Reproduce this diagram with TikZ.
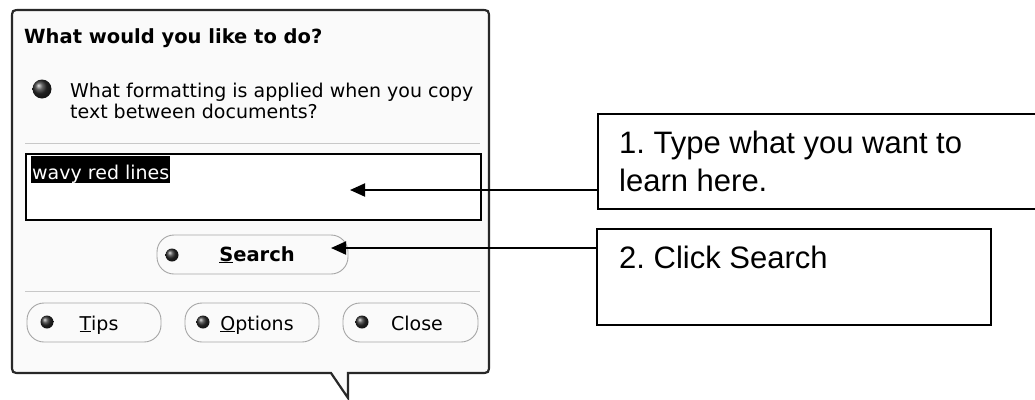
\documentclass[tikz,border=0pt]{standalone}
\usepackage{fontspec}
\setmainfont{Liberation Sans}
\newfontfamily\uifont{DejaVu Sans}
\usetikzlibrary{arrows.meta}
\frenchspacing

\definecolor{balloonbg}{RGB}{250,250,250}
\definecolor{balloonline}{RGB}{40,40,40}
\definecolor{rulegray}{RGB}{200,200,200}
\definecolor{pillline}{RGB}{165,165,165}

\tikzset{
  balloon/.style={draw=balloonline, line width=2.2pt, fill=balloonbg},
  field/.style={draw=black, line width=1.6pt, fill=white, anchor=north west,
    inner sep=0pt, minimum width=455pt, minimum height=66pt},
  pill/.style={draw=pillline, line width=0.9pt, rounded corners=17pt,
    minimum height=39pt, inner sep=0pt},
  knob/.style={circle, inner sep=0pt, minimum size=13pt, shading=ball,
    ball color=black!82},
  uitext/.style={font=\uifont\fontsize{19}{21}\selectfont, inner sep=0pt},
  uibold/.style={font=\uifont\bfseries\fontsize{19.5}{22}\selectfont, inner sep=0pt},
  note/.style={draw=black, line width=2pt, anchor=north west, inner sep=0pt},
  notetext/.style={font=\fontsize{31}{37}\selectfont, inner sep=0pt, anchor=base west},
  pointer/.style={draw=black, line width=2pt, -{Triangle[length=15pt,width=13pt]}},
  rulefaint/.style={draw=rulegray, line width=1pt},
}

\begin{document}
\begin{tikzpicture}[x=1pt, y=-1pt]
  \useasboundingbox (0,0) rectangle (1035,399);

  % help balloon with its tail
  \path[balloon] (21,373) .. controls (12,373) .. (12,364) -- (12,19)
    .. controls (12,10) .. (21,10) -- (480,10)
    .. controls (489,10) .. (489,19) -- (489,364)
    .. controls (489,373) .. (480,373) -- (348,373) -- (348,398)
    -- (331,373) -- cycle;

  % heading and suggested question
  \node[uibold, anchor=base west] (title) at (24,43) {What would you like to do?};
  \node[knob, minimum size=19pt] (qdot) at (42,89) {};
  \node[uitext, anchor=base west] (q1) at (70,97) {What formatting is applied when you copy};
  \node[uitext, anchor=base west] (q2) at (70,118) {text between documents?};

  \path[rulefaint] (25,143) -- (480,143);

  % query field with selected text
  \node[field] (field) at (25,153) {};
  \node[uitext, anchor=base west, fill=black, text=white, inner xsep=1pt,
        text height=23pt, text depth=4pt] (query) at (31,179) {wavy red lines};

  % search button
  \node[pill, minimum width=191pt] (search) at (252.5,254.5) {};
  \node[knob] (sdot) at (172,255) {};
  \node[uibold, anchor=base] (slabel) at (257,261) {\underline{S}earch};

  \path[rulefaint] (25,291) -- (480,291);

  % bottom buttons
  \node[pill, minimum width=134pt] (tips) at (94,322.5) {};
  \node[knob] (tdot) at (47,322) {};
  \node[uitext, anchor=base] (tlabel) at (99,330) {\underline{T}ips};

  \node[pill, minimum width=134pt] (options) at (252,322.5) {};
  \node[knob] (odot) at (203,322) {};
  \node[uitext, anchor=base] (olabel) at (257,330) {\underline{O}ptions};

  \node[pill, minimum width=135pt] (close) at (410.5,322.5) {};
  \node[knob] (cdot) at (362,322) {};
  \node[uitext, anchor=base] (clabel) at (417,330) {Close};

  % call-out boxes
  \node[note, minimum width=460pt, minimum height=95pt] (box1) at (597,113) {};
  \node[notetext] (n1a) at (619,153) {1. Type what you want to};
  \node[notetext] (n1b) at (619,191) {learn here.};

  \node[note, minimum width=394pt, minimum height=96pt] (box2) at (596,228) {};
  \node[notetext] (n2) at (619,268) {2. Click Search};

  % pointers
  \coordinate (tip1) at (350,190);
  \coordinate (tip2) at (331,248);
  \draw[pointer] (box1.west |- tip1) -- (tip1);
  \draw[pointer] (box2.west |- tip2) -- (tip2);
\end{tikzpicture}
\end{document}
